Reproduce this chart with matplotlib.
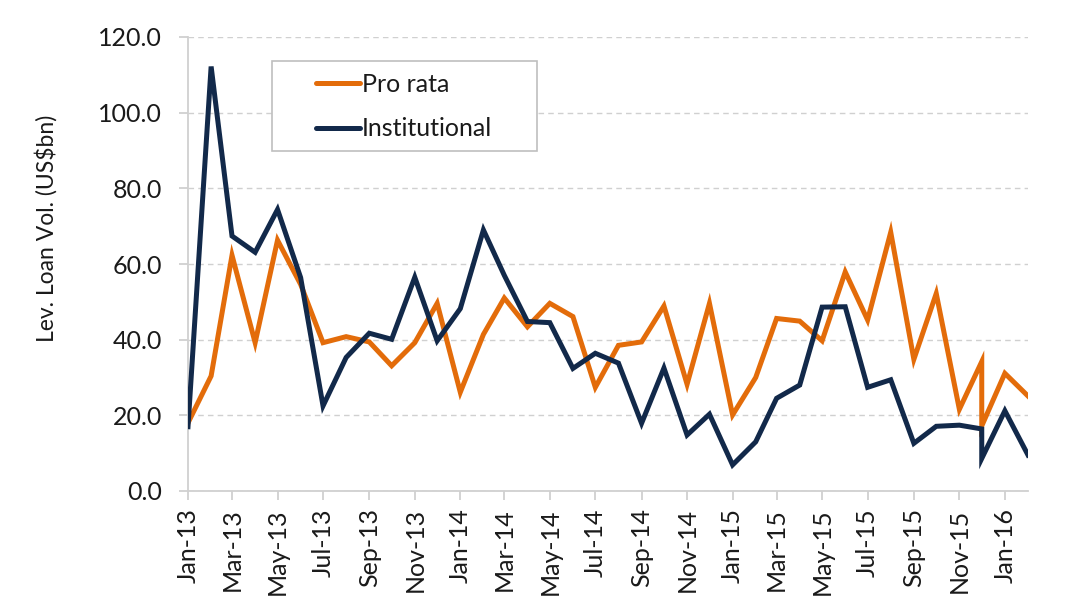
import matplotlib
matplotlib.use("Agg")
import matplotlib.pyplot as plt
import matplotlib.dates as mdates
import pandas as pd
from matplotlib.lines import Line2D
from matplotlib.patches import Rectangle

# ---- data ----
months = ["2013-01", "2013-02", "2013-03", "2013-04", "2013-05", "2013-06",
          "2013-07", "2013-08", "2013-09", "2013-10", "2013-11", "2013-12",
          "2014-01", "2014-02", "2014-03", "2014-04", "2014-05", "2014-06",
          "2014-07", "2014-08", "2014-09", "2014-10", "2014-11", "2014-12",
          "2015-01", "2015-02", "2015-03", "2015-04", "2015-05", "2015-06",
          "2015-07", "2015-08", "2015-09", "2015-10", "2015-11", "2015-12",
          "2015-12", "2016-01", "2016-02"]
pro_rata = [18.0, 30.4, 62.3, 39.2, 66.3, 54.6,
            39.2, 40.8, 39.4, 33.1, 39.2, 49.6,
            26.1, 41.4, 51.0, 43.4, 49.6, 46.1,
            27.4, 38.5, 39.4, 48.9, 28.2, 49.6,
            20.1, 30.0, 45.6, 44.9, 39.7, 57.9,
            45.2, 68.4, 34.8, 52.2, 21.6, 34.2,
            17.2, 31.1, 25.1]
institutional = [17.0, 112.2, 67.4, 63.1, 74.4, 56.4,
                 22.5, 35.3, 41.7, 40.1, 56.5, 39.7,
                 48.2, 69.0, 57.0, 44.8, 44.5, 32.4,
                 36.4, 33.8, 17.9, 32.5, 14.8, 20.3,
                 6.9, 13.0, 24.5, 28.0, 48.6, 48.7,
                 27.4, 29.4, 12.6, 17.1, 17.4, 16.4,
                 8.6, 21.2, 9.5]
series_names = ["Pro rata", "Institutional"]
y_label = "Lev. Loan Vol. (US$bn)"
y_ticks = [0, 20, 40, 60, 80, 100, 120]

dates = pd.to_datetime(months, format="%Y-%m")

# ---- style ----
FONT = ["Lato", "DejaVu Sans"]
plt.rcParams["font.family"] = FONT
orange = "#E36C0A"
navy = "#12294A"
grey = "#D0D0D0"
text_c = "#1a1a1a"

W, H = 1082, 610
fig = plt.figure(figsize=(W / 100, H / 100), dpi=100)
AX_L, AX_R, AX_T, AX_B = 188, 1028, 37, 491
ax = fig.add_axes([AX_L / W, 1 - AX_B / H, (AX_R - AX_L) / W, (AX_B - AX_T) / H])

ax.plot(dates, pro_rata, color=orange, lw=3.6, solid_joinstyle="miter",
        label=series_names[0], zorder=3)
ax.plot(dates, institutional, color=navy, lw=3.6, solid_joinstyle="miter",
        label=series_names[1], zorder=4)

ax.set_xlim(pd.Timestamp("2013-01-01"), pd.Timestamp("2016-02-01"))
ax.set_ylim(0, 120)
ax.set_yticks(y_ticks)
ax.set_yticklabels([f"{v:.1f}" for v in y_ticks])

ax.xaxis.set_major_locator(mdates.MonthLocator(bymonth=[1, 3, 5, 7, 9, 11]))
ax.xaxis.set_major_formatter(mdates.DateFormatter("%b-%y"))
plt.setp(ax.get_xticklabels(), rotation=90, ha="center", va="top")

ax.grid(axis="y", color=grey, linestyle=(0, (4, 3)), linewidth=1.0, zorder=0)
ax.grid(axis="x", visible=False)
for side in ["top", "right"]:
    ax.spines[side].set_visible(False)
for side in ["left", "bottom"]:
    ax.spines[side].set_color(grey)
    ax.spines[side].set_linewidth(1.3)

ax.tick_params(axis="both", colors=grey, labelcolor=text_c,
               labelsize=18, length=6.5, width=1.3)
ax.tick_params(axis="x", pad=6)
ax.tick_params(axis="y", pad=12)

fig.text(46 / W, 1 - 228 / H, y_label, rotation=90, ha="center", va="center",
         fontsize=16.5, color=text_c)

# legend: frame box drawn in figure pixels, entries without frame
box = Rectangle((272 / W, 1 - 150.5 / H), (537 - 272) / W, (150.5 - 60.5) / H,
                transform=fig.transFigure, facecolor="white", edgecolor="#BFBFBF",
                linewidth=1.2, zorder=5)
fig.add_artist(box)
handles = [Line2D([], [], color=orange, lw=3.6, solid_capstyle="round"),
           Line2D([], [], color=navy, lw=3.6, solid_capstyle="round")]
leg = fig.legend(handles, series_names, loc="upper left",
                 bbox_to_anchor=(316 / W, 1 - 73 / H),
                 fontsize=18, frameon=False, handlelength=1.75, handletextpad=0.08,
                 borderpad=0, labelspacing=0.85, borderaxespad=0)
leg.set_zorder(6)
for t in leg.get_texts():
    t.set_color(text_c)

fig.savefig("out.png", dpi=100, facecolor="white")
